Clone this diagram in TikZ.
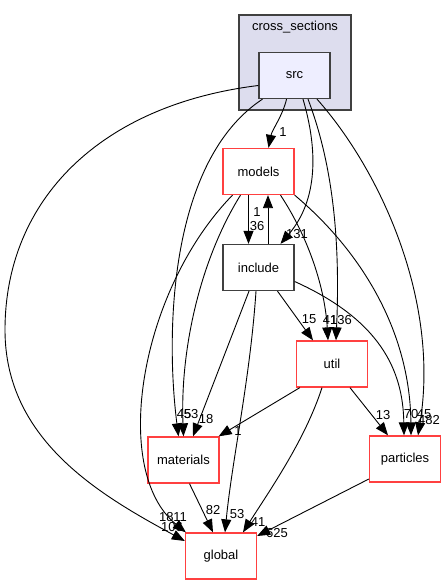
\documentclass[tikz,border=0pt]{standalone}
\usepackage{fontspec}
\setmainfont{Liberation Sans}
\usetikzlibrary{arrows.meta}
\definecolor{dirred}{RGB}{255,64,64}
\definecolor{clusterfill}{RGB}{221,221,238}
\definecolor{srcfill}{RGB}{238,238,255}
\definecolor{boxgray}{RGB}{64,64,64}
\tikzset{
  dirbox/.style={draw=dirred, line width=1.3pt, fill=white, minimum width=71pt,
    minimum height=46pt, inner sep=0pt, font=\fontsize{13}{15}\selectfont},
  blackbox/.style={dirbox, draw=boxgray},
  dep/.style={line width=0.9pt, -{Triangle[length=13pt,width=10pt]}},
  lbl/.style={inner sep=0pt, font=\fontsize{13}{15}\selectfont}
}
\begin{document}
\begin{tikzpicture}[x=1pt,y=-1pt]
      \useasboundingbox (0,0) rectangle (447,585);
      % cluster
      \filldraw[fill=clusterfill, draw=boxgray, line width=1.3pt] (239,15) rectangle (351,110);
      \node[lbl] (crosssections) at (295,27) {cross\_sections};
      \draw
        (294.5,75.5) node[blackbox, fill=srcfill] (src){src}
        (258.5,171.5) node[dirbox] (models){models}
        (258.5,267.5) node[blackbox] (include){include}
        (332,364) node[dirbox] (util){util}
        (183.5,460) node[dirbox] (materials){materials}
        (405,459) node[dirbox] (particles){particles}
        (221,556) node[dirbox] (global){global};
      \begin{scope}[dep]
        \draw ([yshift=-10pt]src.west) .. controls (100,105) and (5,200) .. (5,330)
          .. controls (5,440) and (100,495) .. ([yshift=15pt]global.west);
        \draw ([xshift=-32pt]src.south) .. controls (170,160) and (165,330) .. ([xshift=-5pt]materials.north);
        \draw ([xshift=-8pt]src.south) .. controls (283,115) and (272,130) .. ([xshift=10pt]models.north);
        \draw ([xshift=8.5pt]src.south) .. controls (318,150) and (318,200) .. ([xshift=22pt]include.north);
        \draw ([xshift=13.5pt]src.south) .. controls (335,170) and (340,250) .. ([xshift=4pt]util.north);
        \draw ([xshift=22.5pt]src.south) .. controls (380,170) and (440,300) .. ([xshift=13pt]particles.north);
        \draw ([xshift=-10pt]models.south) to ([xshift=-10pt]include.north);
        \draw ([xshift=9.5pt]include.north) to ([xshift=9.5pt]models.south);
        \draw ([xshift=-26pt]models.south) .. controls (140,290) and (110,470) .. ([xshift=1pt]global.north west);
        \draw ([xshift=-18pt]models.south) .. controls (200,260) and (180,350) .. (materials.north);
        \draw ([xshift=22pt]models.south) .. controls (310,240) and (325,290) .. ([xshift=-4pt]util.north);
        \draw (models.south east) .. controls (360,250) and (410,330) .. ([xshift=6pt]particles.north);
        \draw ([xshift=19pt]include.south) to ([xshift=-19pt]util.north);
        \draw ([xshift=-9.5pt]include.south) to ([xshift=9.5pt]materials.north);
        \draw ([xshift=-2.5pt]include.south) .. controls (250,380) and (232,460) .. ([xshift=4pt]global.north);
        \draw ([yshift=-14pt]include.east) .. controls (380,320) and (403,370) .. ([xshift=-1pt]particles.north);
        \draw ([xshift=4pt]util.south west) to ([xshift=-1pt]materials.north east);
        \draw ([xshift=-10pt]util.south) .. controls (305,440) and (270,490) .. ([xshift=22pt]global.north);
        \draw ([xshift=18pt]util.south) to ([xshift=-17pt]particles.north);
        \draw ([xshift=6pt]materials.south) to ([xshift=-8pt]global.north);
        \draw ([yshift=-20pt]particles.west) to ([yshift=20pt]global.east);
      \end{scope}
      % edge labels
      \node[lbl] (l1) at (283,132) {1};
      \node[lbl] (l2) at (297,234) {131};
      \node[lbl] (l3) at (257,212) {1};
      \node[lbl] (l4) at (257,226) {36};
      \node[lbl] (l5) at (330,320) {41};
      \node[lbl] (l6) at (341,320) {136};
      \node[lbl] (l7) at (309,319) {15};
      \node[lbl] (l8) at (184,414) {45};
      \node[lbl] (l9) at (191,414) {53};
      \node[lbl] (l10) at (206,419) {18};
      \node[lbl] (l11) at (238,431) {1};
      \node[lbl] (l12) at (383,415) {13};
      \node[lbl] (l13) at (411,414) {70};
      \node[lbl] (l14) at (424,414) {45};
      \node[lbl] (l15) at (429,420) {482};
      \node[lbl] (l16) at (173,517) {1811};
      \node[lbl] (l17) at (172,527) {106};
      \node[lbl] (l18) at (213,510) {82};
      \node[lbl] (l19) at (237,514) {53};
      \node[lbl] (l20) at (258,522) {41};
      \node[lbl] (l21) at (277,533) {625};
    \end{tikzpicture}
\end{document}
